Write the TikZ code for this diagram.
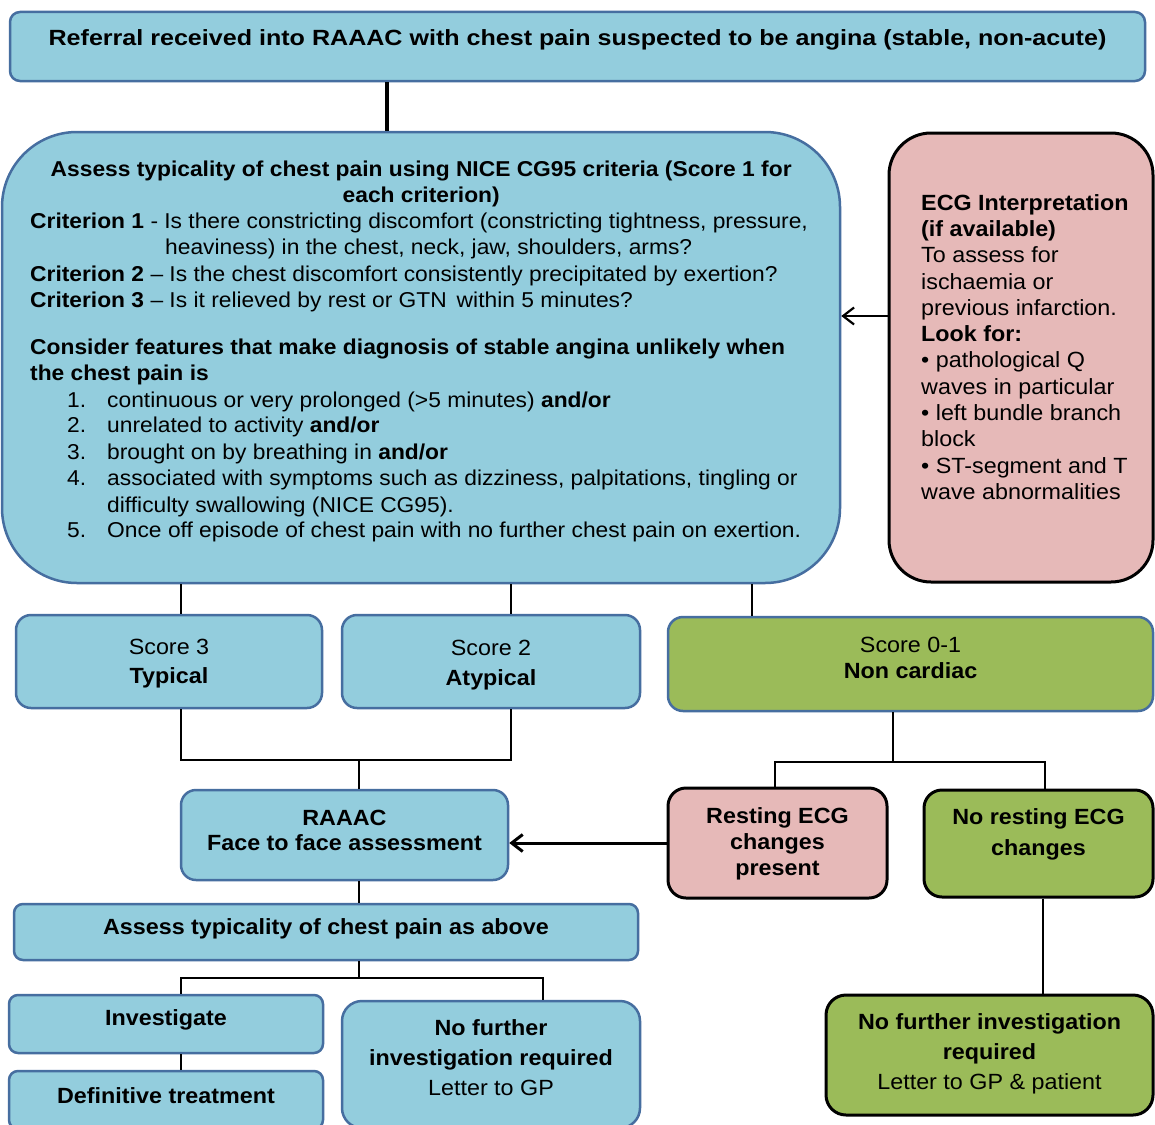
\documentclass[tikz,border=0pt]{standalone}
\usepackage{fontspec}
\setmainfont[FakeStretch=1.06]{Liberation Sans}
\newfontfamily\topfont[FakeStretch=1.14]{Liberation Sans}
\usetikzlibrary{arrows.meta}
\definecolor{boxblue}{RGB}{147,205,221}
\definecolor{bordblue}{RGB}{70,110,160}
\definecolor{boxgreen}{RGB}{155,187,89}
\definecolor{boxpink}{RGB}{230,185,184}
\newcommand\fsz[2]{\fontsize{#1}{#2}\selectfont}
\begin{document}
\begin{tikzpicture}[x=1pt,y=-1pt,
  box/.style={rectangle, line width=2.5pt, inner sep=0pt, rounded corners=#1},
  bluebox/.style={box=#1, fill=boxblue, draw=bordblue},
  greenbb/.style={box=#1, fill=boxgreen, draw=bordblue},
  greenbk/.style={box=#1, fill=boxgreen, draw=black, line width=3pt},
  pinkbk/.style={box=#1, fill=boxpink, draw=black, line width=3pt},
  txt/.style={inner sep=0pt, align=center, font=\fsz{22}{26}},
  conn/.style={draw=black, line width=2.5pt},
  arr/.style={conn, -{Straight Barb[length=11pt,width=17pt]}}
]
\clip (0,0) rectangle (1155,1124);
\fill[white] (0,0) rectangle (1155,1124);

% x / y reference coordinates
\coordinate (x387) at (387,0);
\coordinate (x181) at (181,0);
\coordinate (x511) at (511,0);
\coordinate (x752) at (752,0);
\coordinate (x359) at (359,0);
\coordinate (x893) at (893,0);
\coordinate (x775) at (775,0);
\coordinate (x1045) at (1045,0);
\coordinate (x543) at (543,0);
\coordinate (x1043) at (1043,0);
\coordinate (y316) at (0,316);

% boxes
\node[bluebox=10pt, minimum width=1135pt, minimum height=69pt] (top) at (577.5,46.5) {};
\node[bluebox=75pt, minimum width=838pt, minimum height=451pt] (big) at (421,357.5) {};
\node[pinkbk=42pt, minimum width=264pt, minimum height=449pt] (ecg) at (1021,357.5) {};
\node[bluebox=15pt, minimum width=306pt, minimum height=93pt] (s3) at (169,661.5) {};
\node[bluebox=15pt, minimum width=298pt, minimum height=93pt] (s2) at (491,661.5) {};
\node[greenbb=15pt, minimum width=485pt, minimum height=94pt] (s01) at (910.5,664) {};
\node[bluebox=15pt, minimum width=327pt, minimum height=90pt] (raaac) at (344.5,835) {};
\node[pinkbk=18pt, minimum width=219pt, minimum height=110pt] (resting) at (777.5,843) {};
\node[greenbk=18pt, minimum width=229pt, minimum height=107pt] (noresting) at (1038.5,843.5) {};
\node[greenbk=20pt, minimum width=327pt, minimum height=120pt] (final) at (989.5,1055) {};
\node[bluebox=9pt, minimum width=624pt, minimum height=56pt] (assess) at (326,932) {};
\node[bluebox=9pt, minimum width=314pt, minimum height=58pt] (invest) at (166,1024) {};
\node[bluebox=9pt, minimum width=314pt, minimum height=58pt] (defin) at (166,1100) {};
\node[bluebox=20pt, minimum width=298pt, minimum height=127pt] (nofurther) at (491,1064.5) {};

% texts
\node[txt, font=\topfont\fsz{22}{26}] (toptext) at (577.5,40) {\bfseries Referral received into RAAAC with chest pain suspected to be angina (stable, non-acute)};

\node[inner sep=0pt, anchor=north west, align=left, font=\fsz{21.5}{25.8}] (bigtext) at (30,161) {%
\makebox[782pt][c]{\bfseries Assess typicality of chest pain using NICE CG95 criteria (Score 1 for}\\
\makebox[782pt][c]{\bfseries each criterion)}\\[0.5pt]
\textbf{Criterion 1} - Is there constricting discomfort (constricting tightness, pressure,\\
\hspace*{135pt}heaviness) in the chest, neck, jaw, shoulders, arms?\\[1pt]
\textbf{Criterion 2} – Is the chest discomfort consistently precipitated by exertion?\\
\textbf{Criterion 3} – Is it relieved by rest or GTN\, within 5 minutes?\\[21.5pt]
\textbf{Consider features that make diagnosis of stable angina unlikely when}\\
\textbf{the chest pain is}\\[1pt]
\hspace*{37pt}\makebox[40pt][l]{1.}continuous or very prolonged (>5 minutes) \textbf{and/or}\\
\hspace*{37pt}\makebox[40pt][l]{2.}unrelated to activity \textbf{and/or}\\[1pt]
\hspace*{37pt}\makebox[40pt][l]{3.}brought on by breathing in \textbf{and/or}\\
\hspace*{37pt}\makebox[40pt][l]{4.}associated with symptoms such as dizziness, palpitations, tingling or\\[1pt]
\hspace*{77pt}difficulty swallowing (NICE CG95).\\[-1pt]
\hspace*{37pt}\makebox[40pt][l]{5.}Once off episode of chest pain with no further chest pain on exertion.};

\node[inner sep=0pt, anchor=north west, align=left, font=\fsz{22}{26.3}] (ecgtext) at (921,194) {%
\textbf{ECG Interpretation}\\
\textbf{(if available)}\\
To assess for\\
ischaemia or\\
previous infarction.\\
\textbf{Look for:}\\
• pathological Q\\
waves in particular\\
• left bundle branch\\
block\\
• ST-segment and T\\
wave abnormalities};

\node[txt, font=\fsz{22}{29}] (s3text) at (169,664) {Score 3\\\textbf{Typical}};
\node[txt, font=\fsz{22}{30}] (s2text) at (491,665.5) {Score 2\\\textbf{Atypical}};
\node[txt] (s01text) at (910.5,658) {Score 0-1\\\textbf{Non cardiac}};
\node[txt, font=\fsz{22}{25}\bfseries] (raaactext) at (344.5,830.5) {RAAAC\\Face to face assessment};
\node[txt, font=\fsz{22}{26}\bfseries] (restingtext) at (777.5,844) {Resting ECG\\changes\\present};
\node[txt, font=\fsz{22}{31}\bfseries] (norestingtext) at (1038.5,834.5) {No resting ECG\\changes};
\node[txt, font=\fsz{22}{30}] (finaltext) at (989.5,1054) {\textbf{No further investigation}\\\textbf{required}\\Letter to GP \& patient};
\node[txt, font=\fsz{22}{26}\bfseries] (assesstext) at (326,929) {Assess typicality of chest pain as above};
\node[txt, font=\fsz{22}{26}\bfseries] (investtext) at (166,1020) {Investigate};
\node[txt, font=\fsz{22}{26}\bfseries] (defintext) at (166,1096) {Definitive treatment};
\node[txt, font=\fsz{22}{30}] (nofurthertext) at (491,1057.5) {\textbf{No further}\\\textbf{investigation required}\\Letter to GP};

% connectors
\draw[conn, line width=4pt] (top.south -| x387) -- (big.north -| x387);
\draw[conn] (big.south -| x181) -- (s3.north -| x181);
\draw[conn] (big.south -| x511) -- (s2.north -| x511);
\draw[conn] (big.south -| x752) -- (s01.north -| x752);
\draw[arr, line width=2.2pt] (ecg.west |- y316) -- (big.east |- y316);

\coordinate (j1) at (359,760);
\draw[conn] (s3.south -| x181) |- (j1) -| (s2.south -| x511);
\draw[conn] (j1) -- (raaac.north -| j1);

\coordinate (j2) at (893,762);
\draw[conn] (s01.south -| x893) -- (j2);
\draw[conn] (resting.north -| x775) -- (x775 |- j2) -- (x1045 |- j2) -- (noresting.north -| x1045);
\draw[arr, line width=3pt] (resting.west) -- (raaac.east |- resting.west);

\coordinate (j3) at (359,978);
\draw[conn] (raaac.south -| x359) -- (assess.north -| x359);
\draw[conn] (assess.south -| x359) -- (j3);
\draw[conn] (invest.north -| x181) -- (x181 |- j3) -- (x543 |- j3) -- (nofurther.north -| x543);
\draw[conn] (invest.south -| x181) -- (defin.north -| x181);
\draw[conn] (noresting.south -| x1043) -- (final.north -| x1043);
\end{tikzpicture}
\end{document}
